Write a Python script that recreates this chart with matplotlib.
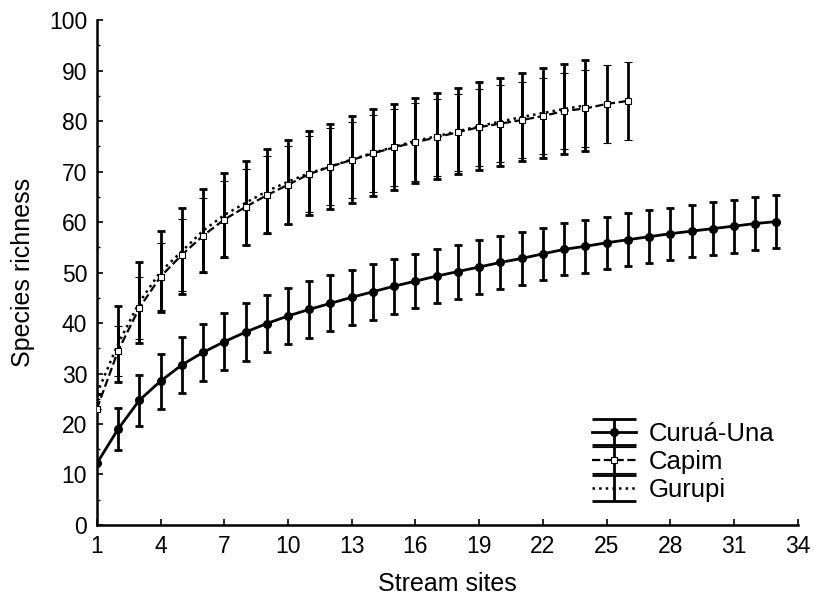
import matplotlib.pyplot as plt
import numpy as np

plt.rcParams['font.family'] = ['Liberation Sans', 'DejaVu Sans']

# Rarefaction curves (species richness vs number of stream sites)
curua_x = np.arange(1, 34)
curua_y = [12.2, 19.0, 24.7, 28.5, 31.7, 34.2, 36.3, 38.2, 39.9, 41.4,
           42.7, 43.9, 45.1, 46.2, 47.3, 48.3, 49.3, 50.2, 51.1, 52.0,
           52.8, 53.7, 54.6, 55.2, 55.9, 56.5, 57.1, 57.7, 58.2, 58.7,
           59.2, 59.7, 60.1]
curua_err = [0, 4.1, 5.0, 5.45, 5.55, 5.65, 5.65, 5.7, 5.6, 5.6,
             5.6, 5.55, 5.5, 5.5, 5.45, 5.4, 5.4, 5.35, 5.3, 5.3,
             5.25, 5.2, 5.15, 5.2, 5.15, 5.2, 5.2, 5.15, 5.2, 5.2,
             5.25, 5.3, 5.25]

capim_x = np.arange(1, 27)
capim_y = [23.0, 34.5, 43.0, 49.2, 53.5, 57.3, 60.5, 63.0, 65.3, 67.4,
           69.5, 71.0, 72.3, 73.6, 74.8, 75.8, 76.8, 77.8, 78.8, 79.5,
           80.2, 81.0, 82.0, 82.5, 83.4, 84.0]
capim_err = [0, 5.0, 6.1, 6.7, 7.2, 7.4, 7.6, 7.6, 7.7, 7.7,
             7.6, 7.6, 7.6, 7.6, 7.6, 7.7, 7.6, 7.6, 7.6, 7.6,
             7.6, 7.6, 7.6, 7.7, 7.7, 7.65]

gurupi_x = np.arange(1, 25)
gurupi_y = [26.0, 35.9, 44.1, 50.2, 54.2, 58.3, 61.4, 63.8, 66.1, 68.0,
            69.7, 71.0, 72.4, 73.7, 74.9, 76.1, 77.0, 78.0, 79.0, 79.9,
            80.8, 81.6, 82.4, 83.1]
gurupi_err = [0, 7.5, 8.0, 8.0, 8.5, 8.2, 8.35, 8.25, 8.3, 8.35,
              8.35, 8.5, 8.6, 8.6, 8.45, 8.4, 8.55, 8.55, 8.7, 8.7,
              8.8, 8.9, 8.9, 9.0]

xticks = [1, 4, 7, 10, 13, 16, 19, 22, 25, 28, 31, 34]
yticks = np.arange(0, 101, 10)

fig = plt.figure(figsize=(8.14, 6.01), dpi=100)
ax = fig.add_axes([0.119, 0.1265, 0.861, 0.840])

ax.errorbar(gurupi_x, gurupi_y, yerr=gurupi_err, color='black', ls=':', lw=1.8,
            marker='', elinewidth=2, capsize=2.7, capthick=2, zorder=2)
ax.errorbar(capim_x, capim_y, yerr=capim_err, color='black', ls='--', lw=1.6,
            marker='s', ms=4.5, mfc='white', mec='black', mew=0.8,
            elinewidth=2, capsize=2.7, capthick=2, zorder=3)
ax.errorbar(curua_x, curua_y, yerr=curua_err, color='black', ls='-', lw=2,
            marker='o', ms=5.5, elinewidth=2, capsize=2.7, capthick=2, zorder=4)

# legend proxies with wide caps, like the original figure
leg_kw = dict(color='black', elinewidth=2, capsize=16, capthick=2)
h1 = ax.errorbar([np.nan], [np.nan], yerr=[1], ls='-', lw=2, marker='o', ms=5.5, **leg_kw)
h2 = ax.errorbar([np.nan], [np.nan], yerr=[1], ls='--', lw=1.6, marker='s', ms=4.5,
                 mfc='white', mec='black', mew=0.8, **leg_kw)
h3 = ax.errorbar([np.nan], [np.nan], yerr=[1], ls=':', lw=1.8, marker='', **leg_kw)

ax.set_xlim(1, 34)
ax.set_ylim(0, 100)
ax.set_xticks(xticks)
ax.set_yticks(yticks)
ax.set_yticks(np.arange(5, 100, 10), minor=True)
ax.tick_params(direction='in', length=4, width=1.2, labelsize=16.5, pad=7)
ax.tick_params(which='minor', direction='in', length=2, width=1)
for s in ['top', 'right']:
    ax.spines[s].set_visible(False)
for s in ['left', 'bottom']:
    ax.spines[s].set_linewidth(1.8)

ax.set_xlabel('Stream sites', fontsize=18, labelpad=10)
ax.set_ylabel('Species richness', fontsize=18, labelpad=10)

ax.legend([h1, h2, h3], ['Curuá-Una', 'Capim', 'Gurupi'], loc='lower right',
          bbox_to_anchor=(1.0, 0.0), frameon=False, fontsize=18.5,
          handlelength=1.7, labelspacing=0.15, handletextpad=0.5)

fig.savefig('out.png', dpi=100)
